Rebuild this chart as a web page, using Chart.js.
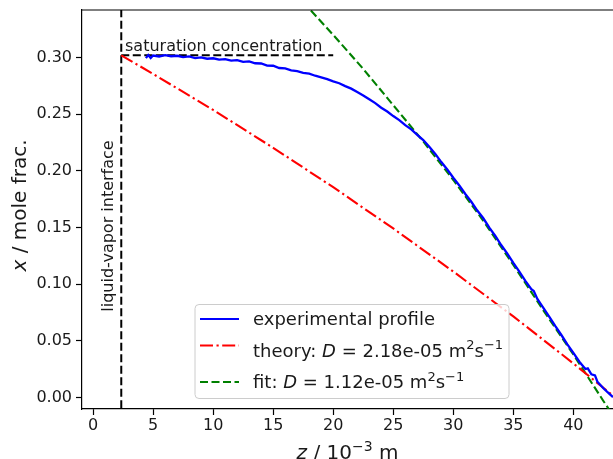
<!DOCTYPE html>
<html>
<head>
<meta charset="utf-8">
<script src="https://cdn.jsdelivr.net/npm/chart.js@4.4.1/dist/chart.umd.min.js"></script>
<style>
  body { margin: 0; background: #fff; }
  canvas { display: block; }
</style>
</head>
<body>
<canvas id="c" width="613" height="459"></canvas>
<script>
// z in 1e-3 m, x in mole fraction
var blueZ = [4.4, 4.6, 4.8, 5.0, 5.5, 6.0, 6.5, 7.0, 7.5, 8.0, 8.5, 9.0, 9.5, 10.0, 10.5, 11.0, 11.5, 12.0, 12.5, 13.0,
    13.5, 14.0, 14.5, 15.0, 15.5, 16.0, 16.5, 17.0, 17.5, 18.0, 18.5, 19.0, 19.5, 20.0, 20.5, 21.0, 21.5, 22.0, 22.5, 23.0,
    23.5, 24.0, 24.5, 25.0, 25.5, 26.0, 26.5, 27.0, 27.5, 28.0, 28.5, 29.0, 29.5, 30.0, 30.5, 31.0, 31.5, 32.0, 32.5, 33.0,
    33.5, 34.0, 34.5, 35.0, 35.5, 36.0, 36.5, 36.7, 37.0, 37.5, 38.0, 38.5, 39.0, 39.5, 40.0, 40.5, 41.0, 41.2, 41.5, 41.8,
    42.0, 42.5, 43.0, 43.3]
var blueX = [0.2995, 0.3022, 0.2996, 0.3018, 0.3010, 0.3022, 0.3012, 0.3016, 0.3004, 0.3010, 0.2996, 0.3002, 0.2990, 0.2994, 0.2982, 0.2986, 0.2974, 0.2978, 0.2962, 0.2966,
    0.2950, 0.2948, 0.2930, 0.2928, 0.2908, 0.2904, 0.2888, 0.2880, 0.2866, 0.2858, 0.2840, 0.2826, 0.2810, 0.2790, 0.2774, 0.2748, 0.2726, 0.2696, 0.2666, 0.2632,
    0.2598, 0.2558, 0.2524, 0.2484, 0.2448, 0.2404, 0.2366, 0.2318, 0.2272, 0.2214, 0.2150, 0.2078, 0.2012, 0.1940, 0.1872, 0.1796, 0.1728, 0.1650, 0.1582, 0.1500,
    0.1426, 0.1344, 0.1270, 0.1188, 0.1112, 0.1030, 0.0956, 0.0940, 0.0870, 0.0792, 0.0712, 0.0630, 0.0552, 0.0470, 0.0394, 0.0316, 0.0252, 0.0258, 0.0205, 0.0196,
    0.0140, 0.0082, 0.0032, 0.0004]

var theoryZ = [2.35, 5, 10, 15, 20, 25, 30, 35, 40, 43.5]
var theoryX = [0.302, 0.2856, 0.2538, 0.2204, 0.1856, 0.1492, 0.1112, 0.0716, 0.0301, 0.0]

var fitZ = [17.5, 20, 22.5, 25, 27.5, 30, 32.5, 35, 37.5, 40, 42.5, 43.5]
var fitX = [0.349, 0.320, 0.290, 0.258, 0.226, 0.192, 0.156, 0.117, 0.077, 0.038, -0.003, -0.019]

var interfaceZ = [2.35, 2.35]
var interfaceX = [-0.05, 0.40]
var satZ = [2.35, 20.0]
var satX = [0.302, 0.302]

var xTicks = [0, 5, 10, 15, 20, 25, 30, 35, 40]
var yTicks = [0.00, 0.05, 0.10, 0.15, 0.20, 0.25, 0.30]

var FONT = 'DejaVu Sans'
var TXT = '#1a1a1a'

function pts(zs, xs) {
    return zs.map(function (z, i) { return { x: z, y: xs[i] } })
}

// draw text with italic / superscript pieces, like matplotlib mathtext
function rich(ctx, segs, x, y, size, align) {
    var w = 0
    segs.forEach(function (s) {
        ctx.font = fontFor(s[1], size)
        s.w = ctx.measureText(s[0]).width
        w += s.w
    })
    var cx = align === 'center' ? x - w / 2 : x
    ctx.textBaseline = 'alphabetic'
    ctx.textAlign = 'left'
    segs.forEach(function (s) {
        ctx.font = fontFor(s[1], size)
        ctx.fillText(s[0], cx, s[1] === 's' ? y - size * 0.4 : y)
        cx += s.w
    })
}

function fontFor(kind, size) {
    if (kind === 'i') return 'italic ' + size + 'px "' + FONT + '"'
    if (kind === 's') return Math.round(size * 0.7) + 'px "' + FONT + '"'
    return size + 'px "' + FONT + '"'
}

var legendRows = [
    { color: '#0000ff', dash: [], ly: 319, ty: 325, segs: [['experimental profile', 'n']] },
    { color: '#ff0000', dash: [13, 3.5, 2.2, 3.5], ly: 345.5, ty: 356.5,
      segs: [['theory: ', 'n'], ['D', 'i'], [' = 2.18e-05 m', 'n'], ['2', 's'], ['s', 'n'], ['\u22121', 's']] },
    { color: '#008000', dash: [8, 3.5], ly: 382, ty: 388,
      segs: [['fit: ', 'n'], ['D', 'i'], [' = 1.12e-05 m', 'n'], ['2', 's'], ['s', 'n'], ['\u22121', 's']] }
]

var extras = {
    id: 'extras',
    afterDraw: function (chart) {
        var ctx = chart.ctx
        var a = chart.chartArea
        ctx.save()
        // top spine
        ctx.strokeStyle = '#000'
        ctx.lineWidth = 1.2
        ctx.beginPath()
        ctx.moveTo(a.left, a.top)
        ctx.lineTo(a.right, a.top)
        ctx.stroke()

        ctx.fillStyle = TXT
        ctx.font = '16px "' + FONT + '"'
        ctx.textBaseline = 'alphabetic'
        ctx.fillText('saturation concentration', 125, 50.5)

        ctx.save()
        ctx.translate(113, 226)
        ctx.rotate(-Math.PI / 2)
        ctx.textAlign = 'center'
        ctx.fillText('liquid-vapor interface', 0, 0)
        ctx.restore()

        // axis titles
        rich(ctx, [['z', 'i'], [' / 10', 'n'], ['\u22123', 's'], [' m', 'n']], (a.left + a.right) / 2, 458.5, 20, 'center')
        ctx.save()
        ctx.translate(26, 205.5)
        ctx.rotate(-Math.PI / 2)
        rich(ctx, [['x', 'i'], [' / mole frac.', 'n']], 0, 0, 20, 'center')
        ctx.restore()

        // legend box
        var bx = 195, by = 304.5, bw = 314, bh = 94, r = 4
        ctx.beginPath()
        ctx.moveTo(bx + r, by)
        ctx.arcTo(bx + bw, by, bx + bw, by + bh, r)
        ctx.arcTo(bx + bw, by + bh, bx, by + bh, r)
        ctx.arcTo(bx, by + bh, bx, by, r)
        ctx.arcTo(bx, by, bx + bw, by, r)
        ctx.closePath()
        ctx.fillStyle = 'rgba(255,255,255,0.8)'
        ctx.fill()
        ctx.strokeStyle = '#cccccc'
        ctx.lineWidth = 1
        ctx.stroke()

        legendRows.forEach(function (row) {
            ctx.strokeStyle = row.color
            ctx.lineWidth = 2.2
            ctx.setLineDash(row.dash)
            ctx.beginPath()
            ctx.moveTo(200, row.ly)
            ctx.lineTo(239, row.ly)
            ctx.stroke()
            ctx.setLineDash([])
            ctx.fillStyle = TXT
            rich(ctx, row.segs, 253, row.ty, 18, 'left')
        })
        ctx.restore()
    }
}

function noPad(s) {
    s.paddingTop = 0
    s.paddingBottom = 0
    s.paddingLeft = 0
    s.paddingRight = 0
}

var chart = new Chart(document.getElementById('c'), {
    type: 'line',
    data: {
        datasets: [
            { label: 'experimental profile', data: pts(blueZ, blueX), borderColor: '#0000ff', borderWidth: 2.3 },
            { label: 'theory', data: pts(theoryZ, theoryX), borderColor: '#ff0000', borderWidth: 2.1, borderDash: [13, 3.5, 2.2, 3.5] },
            { label: 'fit', data: pts(fitZ, fitX), borderColor: '#008000', borderWidth: 2.1, borderDash: [8, 3.5] },
            { label: 'interface', data: pts(interfaceZ, interfaceX), borderColor: '#000', borderWidth: 2, borderDash: [8, 3.5] },
            { label: 'saturation', data: pts(satZ, satX), borderColor: '#000', borderWidth: 2, borderDash: [8, 3.5] }
        ]
    },
    options: {
        responsive: false,
        devicePixelRatio: 1,
        animation: false,
        layout: { padding: { top: 10, right: 0, left: 0, bottom: 0 } },
        elements: {
            point: { radius: 0 },
            line: { tension: 0, fill: false }
        },
        datasets: { line: { clip: 0 } },
        plugins: { legend: { display: false }, tooltip: { enabled: false } },
        scales: {
            x: {
                type: 'linear',
                min: -0.92,
                max: 43.3,
                afterBuildTicks: function (s) { s.ticks = xTicks.map(function (v) { return { value: v } }) },
                afterFit: function (s) { s.height = 50; noPad(s) },
                ticks: { font: { family: FONT, size: 16 }, color: TXT, padding: 1, maxRotation: 0,
                    callback: function (v) { return String(v) } },
                grid: { display: true, drawOnChartArea: false, drawTicks: true, tickLength: 6, tickWidth: 1.2, color: '#000' },
                border: { display: true, color: '#000', width: 1.2 }
            },
            y: {
                type: 'linear',
                min: -0.0101,
                max: 0.342,
                afterBuildTicks: function (s) { s.ticks = yTicks.map(function (v) { return { value: v } }) },
                afterFit: function (s) { s.width = 82; noPad(s) },
                ticks: { font: { family: FONT, size: 16 }, color: TXT, padding: 4,
                    callback: function (v) { return v.toFixed(2) } },
                grid: { display: true, drawOnChartArea: false, drawTicks: true, tickLength: 6, tickWidth: 1.2, color: '#000' },
                border: { display: true, color: '#000', width: 1.2 }
            }
        }
    },
    plugins: [extras]
})
</script>
</body>
</html>
